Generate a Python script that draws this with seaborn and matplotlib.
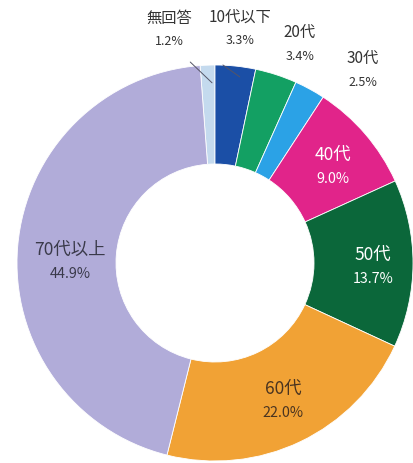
import matplotlib
matplotlib.use("Agg")
import matplotlib.pyplot as plt
import seaborn as sns
import numpy as np

categories = ["無回答", "10代以下", "20代", "30代", "40代", "50代", "60代", "70代以上"]
values = [1.2, 3.3, 3.4, 2.5, 9.0, 13.7, 22.0, 44.9]
colors = ["#c4daee", "#1b4fa6", "#13a063", "#2ba2e6", "#e1248a", "#0b673a", "#f1a235", "#b1acd9"]

# label placement (data coords, pie radius = 1) and text colours
label_pos = [(-0.232, 1.177), (0.126, 1.182), (0.429, 1.106), (0.747, 0.970),
             (0.596, 0.485), (0.798, -0.02), (0.343, -0.697), (-0.732, 0.005)]
label_col = ["#333333", "#333333", "#333333", "#333333",
             "#ffffff", "#ffffff", "#4a3420", "#3a3a4a"]
leaders = {0: ((-0.125, 1.015), (-0.015, 0.91)), 1: ((0.04, 1.0), (0.125, 0.94))}

sns.set_theme(style="white")
plt.rcParams['font.family'] = ['Noto Sans CJK JP', 'DejaVu Sans']

fig = plt.figure(figsize=(4.13, 4.63), dpi=100)
ax = fig.add_axes([0, 0, 1, 1])

start = 90 + values[0] / sum(values) * 360
ax.pie(values, colors=colors, startangle=start, counterclock=False,
       radius=1.0, wedgeprops=dict(width=0.5, edgecolor="white", linewidth=0.6))

R = 198.0
dy = 12.0 / R
for i, (cat, v) in enumerate(zip(categories, values)):
    x, y = label_pos[i]
    outer = i < 4
    fs_cat = 11.0 if outer else 12.5
    fs_pct = 9.0 if outer else 10.3
    ax.text(x, y + dy, cat, ha="center", va="center", fontsize=fs_cat,
            color=label_col[i])
    ax.text(x, y - dy, f"{v:.1f}%", ha="center", va="center", fontsize=fs_pct,
            color=label_col[i])

for i, (p0, p1) in leaders.items():
    ax.plot([p0[0], p1[0]], [p0[1], p1[1]], color="#555566", lw=0.7)

cx, cy = 215.0, 263.0
ax.set_xlim(-cx / R, (413 - cx) / R)
ax.set_ylim(-(463 - cy) / R, cy / R)
ax.set_aspect("auto")
ax.axis("off")

fig.savefig("out.png", dpi=100)
